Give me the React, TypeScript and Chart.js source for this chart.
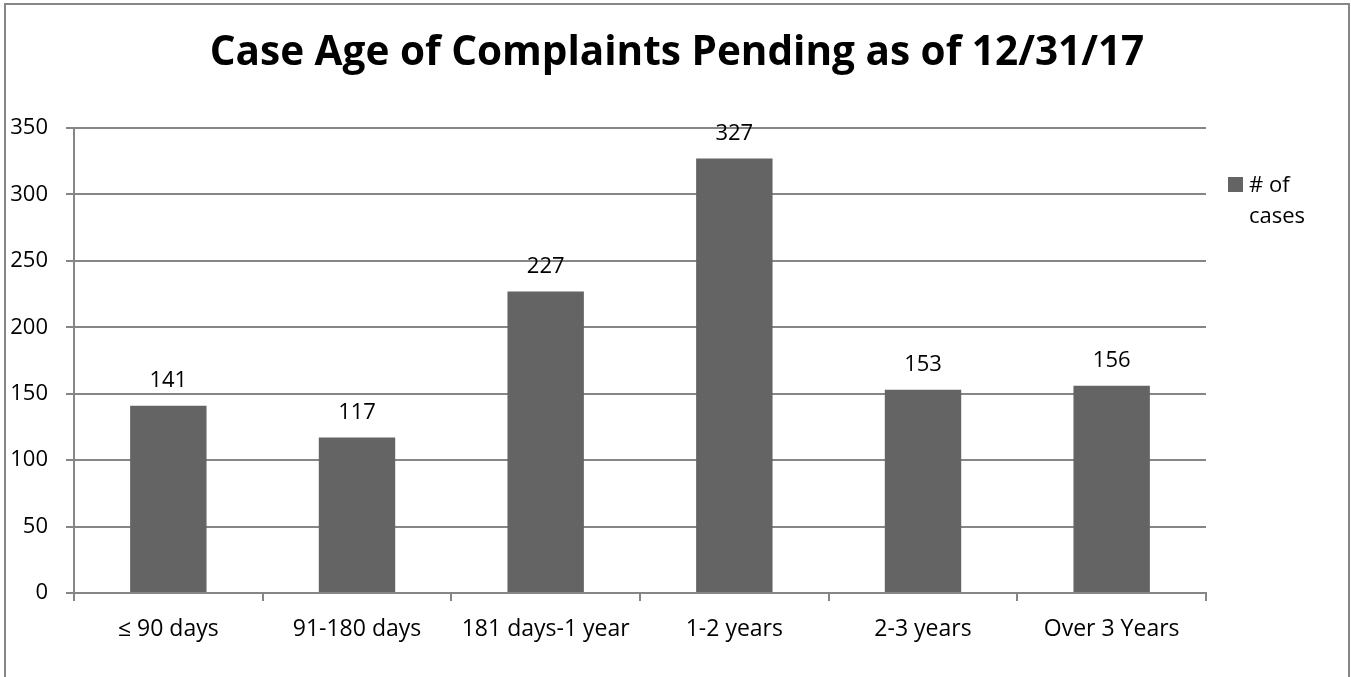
import React, { useEffect, useRef } from "react";
import { Chart, registerables } from "chart.js";

Chart.register(...registerables);

const titleText = "Case Age of Complaints Pending as of 12/31/17";
const categories = ["≤ 90 days", "91-180 days", "181 days-1 year", "1-2 years", "2-3 years", "Over 3 Years"];
const seriesLabel = "# of cases";
const legendLines = ["# of", "cases"];
const caseCounts = [141, 117, 227, 327, 153, 156];

const GRAY = "#868686";
const BAR = "#646464";
const FONT = "'Open Sans', sans-serif";

const decorPlugin = {
  id: "decor",
  afterDraw(chart: any) {
    const ctx = chart.ctx;
    ctx.save();
    // outer border
    ctx.strokeStyle = GRAY;
    ctx.lineWidth = 2;
    ctx.strokeRect(5, 4, 1344, 720);
    // title
    ctx.fillStyle = "#000";
    ctx.font = `bold 40.5px ${FONT}`;
    ctx.textAlign = "center";
    ctx.textBaseline = "middle";
    ctx.fillText(titleText, 677, 53);
    // data labels
    const meta = chart.getDatasetMeta(0);
    ctx.font = `22px ${FONT}`;
    meta.data.forEach((bar: any, i: number) => {
      ctx.fillText(String(chart.data.datasets[0].data[i]), bar.x, bar.y - 25);
    });
    // legend
    const area = chart.chartArea;
    ctx.fillStyle = BAR;
    ctx.fillRect(area.right + 22, 177, 15, 15);
    ctx.fillStyle = "#000";
    ctx.textAlign = "left";
    ctx.textBaseline = "alphabetic";
    legendLines.forEach((l, i) => ctx.fillText(l, area.right + 43, 192 + i * 31));
    ctx.restore();
  },
};

export default function App() {
  const ref = useRef<HTMLCanvasElement>(null);
  useEffect(() => {
    const chart = new Chart(ref.current!, {
      type: "bar",
      data: {
        labels: categories,
        datasets: [
          {
            label: seriesLabel,
            data: caseCounts,
            backgroundColor: BAR,
            barPercentage: 0.405,
            categoryPercentage: 1,
          },
        ],
      },
      options: {
        responsive: false,
        animation: false,
        devicePixelRatio: 1,
        layout: { padding: { left: 0, top: 128, right: 145, bottom: 0 } },
        plugins: { legend: { display: false }, title: { display: false }, tooltip: { enabled: false } },
        scales: {
          x: {
            grid: { color: GRAY, lineWidth: 2, drawOnChartArea: false, tickLength: 8, offset: true },
            border: { color: GRAY, width: 2 },
            ticks: { color: "#000", font: { family: FONT, size: 23 }, padding: 15, maxRotation: 0, autoSkip: false },
            afterFit: (s: any) => {
              s.height = 84;
            },
          },
          y: {
            min: 0,
            max: 350,
            grid: { color: GRAY, lineWidth: 2, tickLength: 8 },
            border: { color: GRAY, width: 2 },
            ticks: { stepSize: 50, color: "#000", font: { family: FONT, size: 22 }, padding: 18 },
            afterFit: (s: any) => {
              s.width = 74;
            },
          },
        },
      },
      plugins: [decorPlugin],
    });
    return () => chart.destroy();
  }, []);
  return (
    <div style={{ position: "fixed", left: 0, top: 0, width: 1351, height: 677, overflow: "hidden", background: "#fff" }}>
      <canvas ref={ref} width={1351} height={677} style={{ display: "block" }} />
    </div>
  );
}
